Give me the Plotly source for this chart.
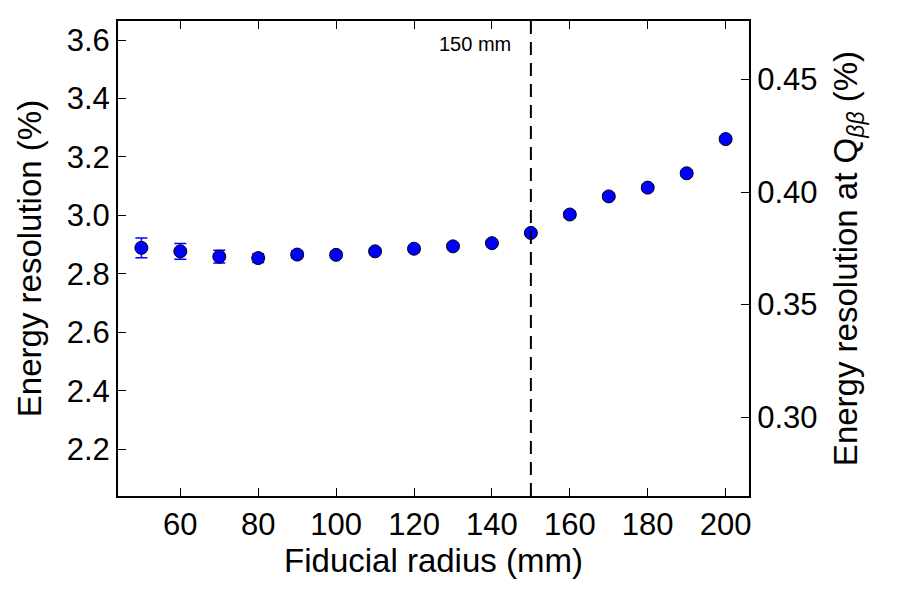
import plotly.graph_objects as go

radius = [50, 60, 70, 80, 90, 100, 110, 120, 130, 140, 150, 160, 170, 180, 190, 200]
resolution = [2.889, 2.877, 2.859, 2.854, 2.866, 2.865, 2.877, 2.886, 2.894, 2.905,
              2.940, 3.003, 3.065, 3.095, 3.144, 3.261]
errors = [0.034, 0.027, 0.022, 0.015, 0.012, 0.011, 0.010, 0.010, 0.010, 0.010,
          0.010, 0.010, 0.010, 0.010, 0.010, 0.010]
qbb_factor = 7.7
cut_radius = 150
x_range = [44, 206]
y_range = [2.04, 3.665]
left_ticks = [2.2, 2.4, 2.6, 2.8, 3.0, 3.2, 3.4, 3.6]
right_ticks = [0.30, 0.35, 0.40, 0.45]
x_ticks = [60, 80, 100, 120, 140, 160, 180, 200]

FONT = "Liberation Sans, Arial, Helvetica, sans-serif"

fig = go.Figure()
fig.add_trace(go.Scatter(
    x=radius, y=resolution, mode="markers",
    marker=dict(color="#0000ff", size=13, line=dict(color="black", width=1)),
    error_y=dict(type="data", array=errors, color="#0000ff", thickness=1.5, width=6),
    showlegend=False,
))
fig.add_trace(go.Scatter(
    x=radius, y=[v / qbb_factor for v in resolution], mode="markers",
    marker=dict(opacity=0), yaxis="y2", showlegend=False, hoverinfo="skip",
))

fig.add_shape(type="line", x0=cut_radius, x1=cut_radius, y0=0, y1=1,
              xref="x", yref="paper",
              line=dict(color="black", width=2, dash="13px,8px"))
fig.add_annotation(x=cut_radius, y=0.952, xref="x", yref="paper",
                   text="150 mm", showarrow=False, xanchor="right", yanchor="middle",
                   xshift=-18, font=dict(size=20, color="black", family=FONT))

axis_common = dict(showgrid=False, zeroline=False, showline=True, linecolor="black",
                   linewidth=2, ticks="inside", tickcolor="black", ticklen=8, tickwidth=1,
                   tickfont=dict(size=31, color="black", family=FONT))

fig.update_layout(
    width=900, height=600,
    margin=dict(l=118, r=151, t=21, b=104),
    plot_bgcolor="white", paper_bgcolor="white",
    font=dict(family=FONT, color="black"),
    xaxis=dict(range=x_range, tickvals=x_ticks, mirror="ticks",
               title=dict(text="Fiducial radius (mm)", font=dict(size=33), standoff=8),
               **axis_common),
    yaxis=dict(range=y_range, tickvals=left_ticks, tickformat=".1f",
               title=dict(text="Energy resolution (%)", font=dict(size=33), standoff=15),
               **axis_common),
    yaxis2=dict(range=[y_range[0] / qbb_factor, y_range[1] / qbb_factor],
                tickvals=right_ticks, tickformat=".2f", overlaying="y", side="right",
                title=dict(text="Energy resolution at Q<sub><i>ββ</i></sub> (%)",
                           font=dict(size=33), standoff=17),
                **axis_common),
)

fig.write_html("out.html")
